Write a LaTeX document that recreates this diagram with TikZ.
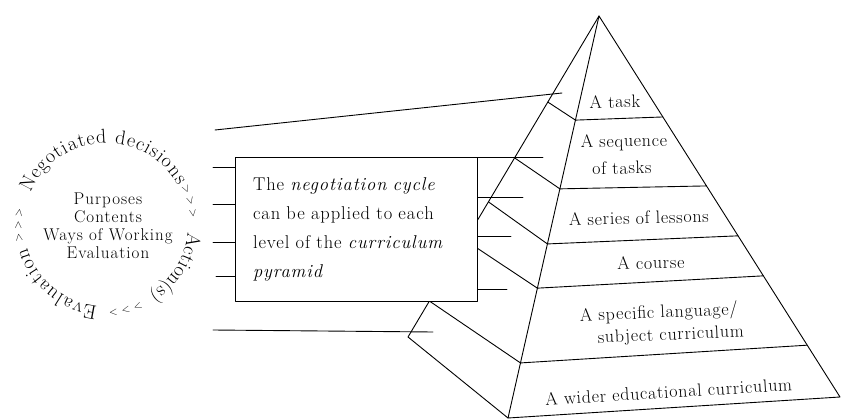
\documentclass[tikz,border=0pt]{standalone}
\usepackage{fontspec}
\setmainfont{Latin Modern Roman}
\usetikzlibrary{decorations.text,calc}
\newcommand{\spaced}[1]{\addfontfeatures{LetterSpace=#1}}
\begin{document}
\begin{tikzpicture}[x=1pt,y=1pt,line width=0.9pt,line join=round,line cap=round,
  lvl/.style={font=\fontsize{18}{22}\selectfont\spaced{4},anchor=base,inner sep=0pt},
  boxtext/.style={draw,fill=white,font=\fontsize{18.5}{29}\selectfont\spaced{5},
    align=left,text width=206pt,inner xsep=18pt,inner ysep=0pt,
    minimum width=242pt,minimum height=144pt},
  hub/.style={font=\fontsize{17}{18}\selectfont\spaced{6},align=center,inner sep=0pt},
  ringtext/.style={decorate,decoration={text along path,text align=fit to path,
    text={|\fontsize{20}{20}\selectfont|#1}}},
  ringarrow/.style={decorate,decoration={text along path,text align=center,
    text={|\fontsize{11}{11}\selectfont|{>} {>} {>}}}}]
\useasboundingbox (0,-419) rectangle (842,0);

% ---- pyramid corners ----
\coordinate (apex) at (599,-16);
\coordinate (fb) at (508,-418);
\coordinate (rb) at (840,-397);
\coordinate (bb) at (408,-337);

% level points on the front, right and back edges
\foreach \i/\f/\r/\b in {1/.259/.265/.268, 2/.430/.446/.442, 3/.567/.577/.579,
                         4/.677/.682/.699, 5/.863/.864/.888}{
  \coordinate (f\i) at ($(apex)!\f!(fb)$);
  \coordinate (r\i) at ($(apex)!\r!(rb)$);
  \coordinate (b\i) at ($(apex)!\b!(bb)$);
}

% outline of the pyramid
\draw (apex) -- (rb) -- (fb) -- cycle;
\draw (apex) -- (bb) -- (fb);
% levels on the front face and on the side face
\foreach \i in {1,...,5}{
  \draw (f\i) -- (r\i);
  \draw (b\i) -- (f\i);
}

% leader lines passing behind the box
\coordinate (t0) at (215,-130);
\coordinate (t1) at (562,-93);
\draw (t0) -- (t1);
\coordinate (u0) at (213,-330);
\coordinate (u1) at (433,-332);
\draw (u0) -- (u1);

% the box
\node[boxtext] (box) at (356,-229)
  {The \textit{negotiation cycle}\\can be applied to each\\level of the \textit{curriculum}\\\textit{pyramid}};

% stubs on the left of the box
\foreach \y/\x in {167/213,204/213,242/213,276/216}{
  \coordinate (ls\y) at (\x,-\y);
  \draw (ls\y) -- (box.west |- ls\y);
}
% stubs on the right of the box
\foreach \y/\x in {157/543,197/523,236/511,289/507}{
  \coordinate (rs\y) at (\x,-\y);
  \draw (box.east |- rs\y) -- (rs\y);
}

% level labels
\node[lvl,rotate=1]   (la) at (615,-108) {A task};
\node[lvl,rotate=1]   (lb1) at (624,-147) {A sequence};
\node[lvl,rotate=1]   (lb2) at (622,-174) {of tasks};
\node[lvl,rotate=1.5] (lc) at (639,-224) {A series of lessons};
\node[lvl,rotate=1.5] (ld) at (651,-269) {A course};
\node[lvl,rotate=2.5] (le1) at (659,-318) {A specific language/};
\node[lvl,rotate=2.5] (le2) at (671,-340) {subject curriculum};
\node[lvl,rotate=3.5] (lf) at (669,-398) {A wider educational curriculum};

% the negotiation cycle
\coordinate (cyc) at (106,-225);
\node[hub] (hubtext) at (108,-226) {Purposes\\Contents\\Ways of Working\\Evaluation};
\path[ringtext={Negotiated decisions}] ($(cyc)+(157:82)$) arc[start angle=157,end angle=29,radius=82];
\path[ringarrow] ($(cyc)+(31:85)$) arc[start angle=31,end angle=1,radius=85];
\path[ringtext={Action(s)}] ($(cyc)+(-5:82)$) arc[start angle=-5,end angle=-58,radius=82];
\path[ringarrow] ($(cyc)+(-62:85)$) arc[start angle=-62,end angle=-92,radius=85];
\path[ringtext={Evaluation}] ($(cyc)+(-96:82)$) arc[start angle=-96,end angle=-164,radius=82];
\path[ringarrow] ($(cyc)+(195:85)$) arc[start angle=195,end angle=165,radius=85];
\end{tikzpicture}
\end{document}
